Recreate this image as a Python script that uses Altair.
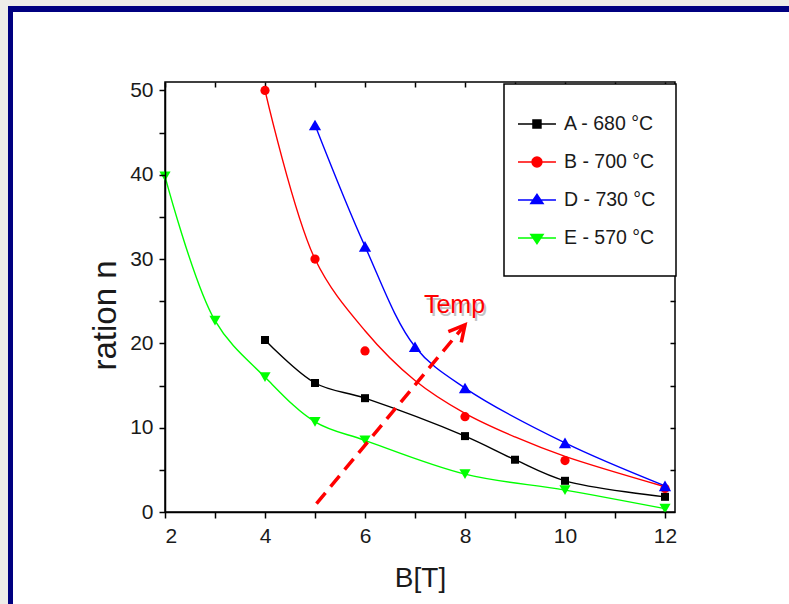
import altair as alt
import pandas as pd

# ---- measured data: ratio n versus field B[T] at four annealing temperatures ----
SERIES = ["A - 680 °C", "B - 700 °C", "D - 730 °C", "E - 570 °C"]

A_B = [4, 5, 6, 8, 9, 10, 12]
A_N = [20.4, 15.3, 13.5, 9.0, 6.2, 3.7, 1.8]

B_B = [4, 5, 6, 8, 10, 12]
B_N = [50.0, 30.0, 19.1, 11.3, 6.1, 2.8]

D_B = [5, 6, 7, 8, 10, 12]
D_N = [45.9, 31.5, 19.6, 14.7, 8.2, 3.1]

E_B = [2, 3, 4, 5, 6, 8, 10, 12]
E_N = [39.8, 22.7, 16.0, 10.7, 8.5, 4.5, 2.6, 0.4]

# fitted curve of series B (it does not pass through every point)
B_FIT_B = [4, 5, 6, 7, 8, 9, 10, 12]
B_FIT_N = [50.0, 30.0, 21.5, 15.6, 11.7, 8.9, 6.6, 3.0]

# "Temp" annotation arrow (start, tip) and label position
ARROW_B = [5.03, 8.0]
ARROW_N = [1.0, 22.2]
TEMP_B = [7.79]
TEMP_N = [23.6]

# axis ticks
X_TICKS = list(range(2, 13))
Y_TICKS = list(range(0, 51, 5))

# ---- styling ----
COLORS = {SERIES[0]: "#000000", SERIES[1]: "#ff0000", SERIES[2]: "#0000ff", SERIES[3]: "#00ff00"}
MARKERS = {SERIES[0]: "square", SERIES[1]: "circle", SERIES[2]: "triangle-up", SERIES[3]: "triangle-down"}
MARKER_SIZE = {SERIES[0]: 64, SERIES[1]: 85, SERIES[2]: 150, SERIES[3]: 125}
# legend glyphs: a short line with the marker on it (unit = 19 px);
# the leading move-tos only reserve the row height
ROW = "M0,-0.76M0,0.76"
LINE = "M-1.37,0H0.63"
LEGEND_GLYPHS = [
    ROW + LINE + "M-0.58,-0.21H-0.16V0.21H-0.58Z",
    ROW + LINE + "M-0.63,0A0.26,0.26 0 1,0 -0.11,0A0.26,0.26 0 1,0 -0.63,0Z",
    ROW + LINE + "M-0.69,0.18L-0.37,-0.3L-0.05,0.18Z",
    ROW + LINE + "M-0.69,-0.18L-0.37,0.3L-0.05,-0.18Z",
]
FONT = "Liberation Sans"
W, H = 510, 430
PAD = {"left": 165, "top": 82, "right": 114, "bottom": 92}

points = pd.concat([
    pd.DataFrame({"B": A_B, "n": A_N, "series": SERIES[0]}),
    pd.DataFrame({"B": B_B, "n": B_N, "series": SERIES[1]}),
    pd.DataFrame({"B": D_B, "n": D_N, "series": SERIES[2]}),
    pd.DataFrame({"B": E_B, "n": E_N, "series": SERIES[3]}),
], ignore_index=True)
points["color"] = points["series"].map(COLORS)
points["marker"] = points["series"].map(MARKERS)
points["msize"] = points["series"].map(MARKER_SIZE)

curves = pd.concat([
    pd.DataFrame({"B": A_B, "n": A_N, "series": SERIES[0]}),
    pd.DataFrame({"B": B_FIT_B, "n": B_FIT_N, "series": SERIES[1]}),
    pd.DataFrame({"B": D_B, "n": D_N, "series": SERIES[2]}),
    pd.DataFrame({"B": E_B, "n": E_N, "series": SERIES[3]}),
], ignore_index=True)
curves["color"] = curves["series"].map(COLORS)

arrow = pd.DataFrame({"B": [ARROW_B[0]], "n": [ARROW_N[0]], "B2": [ARROW_B[1]], "n2": [ARROW_N[1]]})
tip = pd.DataFrame({"B": [ARROW_B[1]], "n": [ARROW_N[1]]})
temp = pd.DataFrame({"B": TEMP_B, "n": TEMP_N, "t": ["Temp"]})

xs = alt.Scale(domain=[2, 12.2], nice=False, zero=False)
ys = alt.Scale(domain=[0, 51], nice=False, zero=False)


def X(axis=None):
    return alt.X("B:Q", scale=xs, axis=axis)


def Y(axis=None):
    return alt.Y("n:Q", scale=ys, axis=axis)


common_axis = dict(
    tickColor="black", tickWidth=1.5, tickSize=6, domainColor="black", domainWidth=1.5,
    grid=False, zindex=1, labelFont=FONT, labelFontSize=21, labelColor="#1a1a1a",
    titleFont=FONT, titleFontWeight="normal", titleColor="#1a1a1a",
)

x_bottom = alt.Axis(orient="bottom", values=X_TICKS, title="B[T]",
                    labelExpr="datum.value % 2 == 0 ? datum.label : ''",
                    labelPadding=7, titlePadding=18, titleFontSize=28, **common_axis)
y_left = alt.Axis(orient="left", values=Y_TICKS, title="ration n",
                  labelExpr="datum.value % 10 == 0 ? datum.label : ''",
                  labelPadding=6, titleFontSize=33, titleX=-60, titleY=233,
                  titleBaseline="middle", titleAlign="center", titleAngle=270,
                  **common_axis)
x_top = alt.Axis(orient="top", values=X_TICKS, title=None, labels=False, domain=False,
                 offset=-5, tickSize=5, tickColor="black", tickWidth=1.5, grid=False, zindex=0)
y_right = alt.Axis(orient="right", values=Y_TICKS[1:], title=None, labels=False, domain=False,
                   offset=-5, tickSize=5, tickColor="black", tickWidth=1.5, grid=False, zindex=0)

# slide frame around the figure (navy band on top and left)
frame_rects = pd.DataFrame({
    "x": [-165, -165, -157, -157],
    "x2": [-157, 624, -152, 624],
    "y": [-82, -82, -76, -76],
    "y2": [522, -76, 522, -70],
    "c": ["#eeede9", "#eeede9", "#000080", "#000080"],
})
frame = alt.Chart(frame_rects).mark_rect(strokeWidth=0).encode(
    x=alt.X("x:Q", scale=None, axis=None), x2="x2:Q",
    y=alt.Y("y:Q", scale=None, axis=None), y2="y2:Q",
    color=alt.Color("c:N", scale=None),
)

lines = alt.Chart(curves).mark_line(interpolate="catmull-rom", strokeWidth=1.4).encode(
    x=X(x_bottom), y=Y(y_left),
    color=alt.Color("color:N", scale=None),
    detail="series:N",
)

markers = alt.Chart(points).mark_point(filled=True, opacity=1).encode(
    x=X(x_top), y=Y(y_right),
    color=alt.Color("color:N", scale=None),
    shape=alt.Shape("marker:N", scale=None),
    size=alt.Size("msize:Q", scale=None),
)

leg = alt.Legend(
    title=None, orient="none", legendX=339, legendY=2, zindex=1,
    symbolSize=1444, symbolStrokeWidth=1.5, labelOffset=0,
    labelFont=FONT, labelFontSize=19.5, labelColor="#1a1a1a",
    padding=20, rowPadding=0, strokeColor="black", fillColor="white",
)
cs = alt.Scale(domain=SERIES, range=[COLORS[s] for s in SERIES])
legend_layer = alt.Chart(points).mark_point(filled=True, strokeWidth=1.5).encode(
    x=X(), y=Y(),
    color=alt.Color("series:N", scale=cs, legend=leg),
    stroke=alt.Stroke("series:N", scale=cs, legend=leg),
    shape=alt.Shape("series:N", scale=alt.Scale(domain=SERIES, range=LEGEND_GLYPHS), legend=leg),
    size=alt.value(0),
)

arrow_line = alt.Chart(arrow).mark_rule(color="#ff0000", strokeWidth=3.5, strokeDash=[14, 8]).encode(
    x=X(), y=Y(), x2="B2:Q", y2="n2:Q",
)
arrow_head = alt.Chart(tip).mark_point(
    shape="M-0.47,0.88L0,0L0.47,0.88", angle=40, size=1296, filled=False,
    stroke="#ff0000", strokeWidth=3.5, opacity=1, strokeJoin="miter",
).encode(x=X(), y=Y())

temp_shadow = alt.Chart(temp).mark_text(
    font=FONT, fontSize=25, color="#555555", opacity=0.35, dx=2, dy=3, baseline="alphabetic"
).encode(x=X(), y=Y(), text="t:N")
temp_text = alt.Chart(temp).mark_text(
    font=FONT, fontSize=25, color="#ff0000", baseline="alphabetic"
).encode(x=X(), y=Y(), text="t:N")

chart = alt.layer(
    frame, lines, markers, legend_layer, arrow_line, arrow_head, temp_shadow, temp_text
).resolve_axis(x="independent", y="independent").properties(
    width=W, height=H, padding=PAD, autosize="none", background="white",
).configure_view(stroke="black", strokeWidth=1.5).configure_legend(strokeWidth=1.5)

chart.save("out.html", embed_options={"renderer": "svg", "actions": False})
